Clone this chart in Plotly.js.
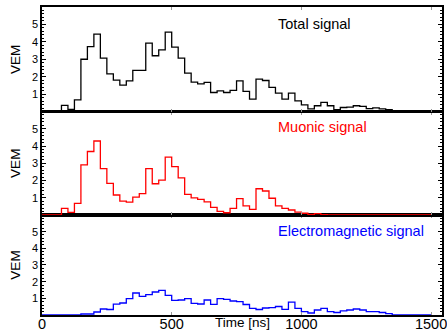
<!DOCTYPE html>
<html><head><meta charset="utf-8">
<script src="https://cdn.plot.ly/plotly-3.0.1.min.js"></script>
<style>html,body{margin:0;padding:0;background:#fff;}#chart{width:447px;height:331px;}</style>
</head><body><div id="chart"></div>
<script>
// bin width in ns, bins start at 0
const binWidth = 25;
const totalSignal = [0,0,0,0.35,0.12,0.67,3.0,3.73,4.44,3.07,2.16,1.8,1.51,1.76,2.36,2.36,3.93,3.2,3.54,4.56,3.7,3.07,2.2,1.69,1.59,1.67,1.09,1.19,1.09,1.21,1.76,1.15,0.71,1.86,1.78,1.38,1.05,0.71,1.05,0.61,0.38,0.15,0.33,0.52,0.33,0.1,0.23,0.25,0.33,0.29,0.17,0.21,0.15,0.1,0,0,0,0,0,0];
const muonicSignal = [0,0,0,0.38,0.15,0.67,2.91,3.68,4.29,2.69,1.83,1.16,0.8,0.74,1.03,1.24,2.69,1.81,2.02,3.35,2.8,2.15,1.2,0.99,0.91,0.76,0.44,0.21,0.13,0.38,0.95,0.53,0.32,1.52,1.39,0.97,0.53,0.38,0.29,0.17,0.1,0.04,0.08,0.02,0,0,0,0,0,0,0,0,0,0,0,0,0,0,0,0];
const emSignal = [0,0,0,0,0,0,0.06,0.06,0.18,0.36,0.33,0.65,0.72,0.98,1.32,1.12,1.22,1.38,1.48,1.18,0.88,0.9,0.98,0.7,0.66,0.9,0.64,0.98,0.94,0.84,0.8,0.63,0.4,0.33,0.42,0.44,0.51,0.34,0.77,0.4,0.2,0.12,0.3,0.4,0.2,0.15,0.25,0.3,0.36,0.3,0.2,0.2,0.15,0.08,0,0,0,0,0,0];
const panelLabels = ["Total signal", "Muonic signal", "Electromagnetic signal"];
const panelColors = ["#000000", "#ff0000", "#0000ff"];
const xTicks = [0, 500, 1000, 1500];
const yTicks = [1, 2, 3, 4, 5];

function stepXY(vals) {
  const x = vals.map((v, i) => i * binWidth);
  x.push(vals.length * binWidth);
  const y = vals.slice();
  y.push(vals[vals.length - 1]);
  return {x, y};
}

const FONT = "Liberation Sans, Arial, Helvetica, sans-serif";
const series = [totalSignal, muonicSignal, emSignal];
const axisIds = [["x3","y3"],["x2","y2"],["x","y"]];
const traces = series.map((vals, k) => {
  const s = stepXY(vals);
  return {x: s.x, y: s.y, type: "scatter", mode: "lines",
    line: {shape: "hv", color: panelColors[k], width: 1.3},
    xaxis: axisIds[k][0], yaxis: axisIds[k][1], hoverinfo: "skip", showlegend: false};
});

function xAxis(showLabels, anchor) {
  return {range: [0, 1542], tickmode: "array", tickvals: xTicks, ticks: "inside", ticklen: 3,
    tickcolor: "#999", showline: true, linecolor: "#000", linewidth: 1.6, mirror: "allticks",
    showgrid: false, zeroline: false, showticklabels: showLabels, anchor: anchor,
    ticklabeloverflow: "allow", ticklabelstandoff: -5,
    tickfont: {family: FONT, size: 14.5, color: "#000"}};
}
function yAxis(domain, anchor) {
  return {range: [0, 6], domain: domain, tickmode: "array", tickvals: yTicks, ticks: "inside",
    ticklen: 4, tickcolor: "#000", showline: true, linecolor: "#000", linewidth: 1.6,
    mirror: "allticks", showgrid: false, zeroline: false, anchor: anchor,
    minor: {ticks: "inside", ticklen: 2, dtick: 0.2, tickcolor: "#000", showgrid: false},
    tickfont: {family: FONT, size: 11, color: "#000"},
    title: {text: "VEM", font: {family: FONT, size: 13.5, color: "#000"}, standoff: 8}};
}

const layout = {
  width: 447, height: 331,
  margin: {l: 42, r: 5, t: 7, b: 16},
  paper_bgcolor: "#fff", plot_bgcolor: "#fff",
  font: {family: FONT, color: "#000"},
  xaxis: xAxis(true, "y"),
  xaxis2: xAxis(false, "y2"),
  xaxis3: xAxis(false, "y3"),
  yaxis: yAxis([0, 0.3247], "x"),
  yaxis2: yAxis([0.3247, 0.6607], "x2"),
  yaxis3: yAxis([0.6607, 1], "x3"),
  annotations: [
    {text: panelLabels[0], xref: "paper", yref: "paper", x: 0.585, y: 0.945, xanchor: "left", yanchor: "middle", showarrow: false, font: {family: FONT, size: 14.5, color: panelColors[0]}},
    {text: panelLabels[1], xref: "paper", yref: "paper", x: 0.585, y: 0.609, xanchor: "left", yanchor: "middle", showarrow: false, font: {family: FONT, size: 14.5, color: panelColors[1]}},
    {text: panelLabels[2], xref: "paper", yref: "paper", x: 0.585, y: 0.273, xanchor: "left", yanchor: "middle", showarrow: false, font: {family: FONT, size: 14.5, color: panelColors[2]}},
    {text: "Time [ns]", xref: "paper", yref: "paper", x: 0.5, y: -0.051, xanchor: "center", yanchor: "bottom", showarrow: false, borderpad: 0, font: {family: FONT, size: 13.5, color: "#000"}}
  ]
};

Plotly.newPlot("chart", traces, layout, {staticPlot: true, displayModeBar: false});
</script>
</body></html>
